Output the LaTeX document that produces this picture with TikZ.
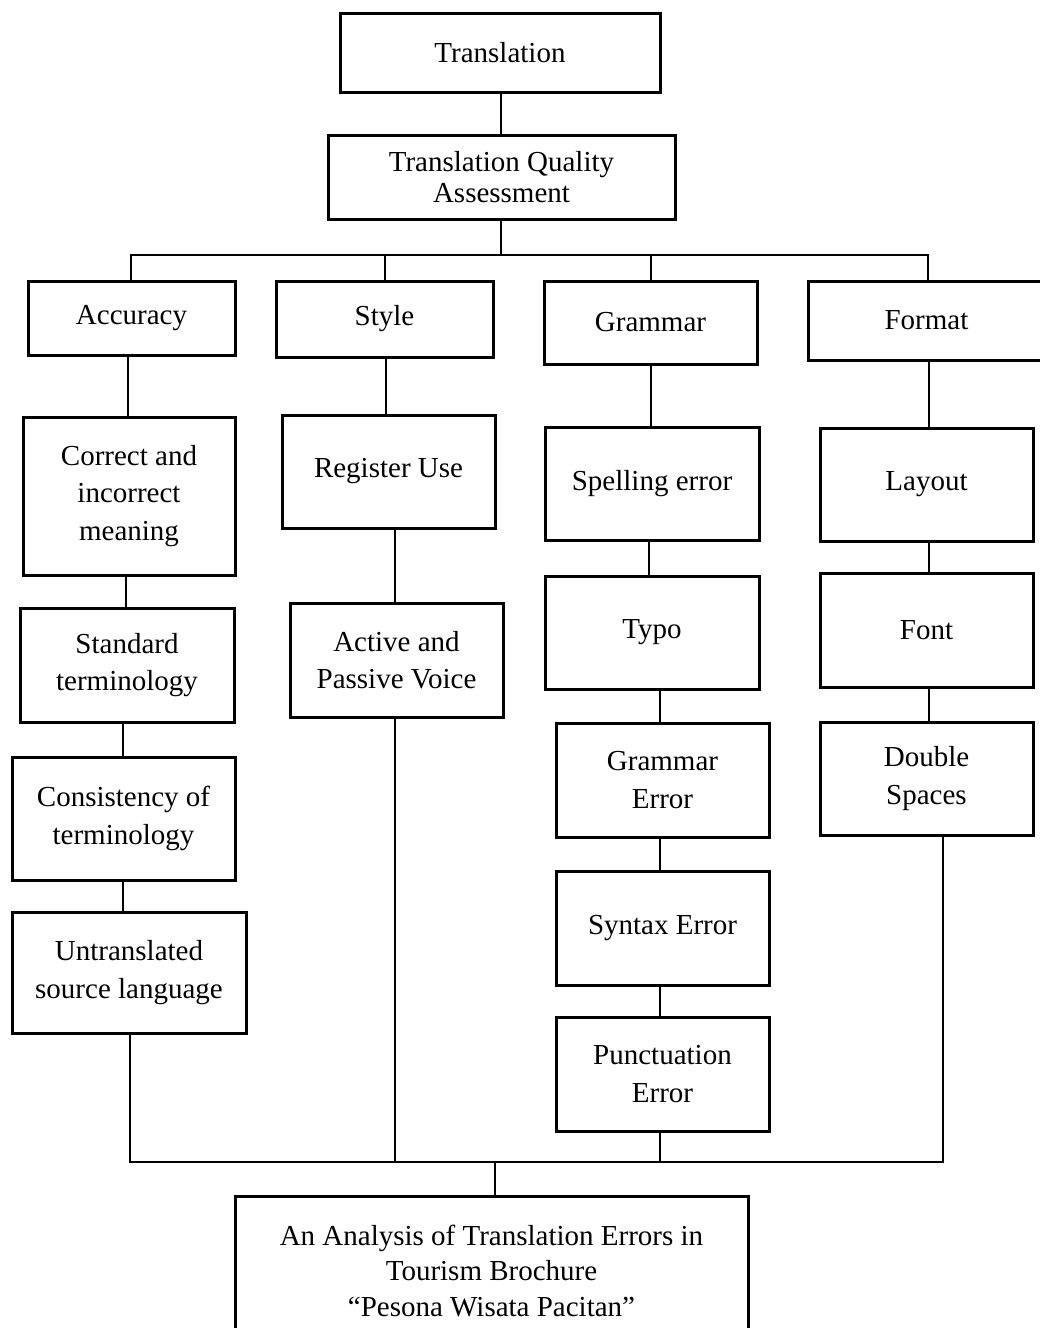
\documentclass[tikz,border=0pt]{standalone}
\usepackage{fontspec}
\setmainfont{Liberation Serif}
\begin{document}
\begin{tikzpicture}[x=1pt,y=-1pt,
  box/.style={draw=black,line width=3pt,rectangle,align=center,inner sep=0pt,
    font=\fontsize{29}{37.5}\selectfont},
  conn/.style={draw=black,line width=2.5pt}]
\useasboundingbox[fill=white] (0,0) rectangle (1040,1328);
% top
\node[box,minimum width=320,minimum height=79] (tr) at (500,52.5) {Translation};
\node[box,minimum width=347,minimum height=84] (tqa) at (501.5,177) {Translation Quality\\[-6pt]Assessment};
% categories
\node[box,minimum width=207,minimum height=74] (acc) at (131.5,318) {Accuracy};
\node[box,minimum width=217,minimum height=76] (sty) at (384.5,319) {Style};
\node[box,minimum width=213,minimum height=83] (gra) at (650.5,322.5) {Grammar};
\node[box,minimum width=237,minimum height=79] (fmt) at (926.5,320.5) {Format};
% accuracy column
\node[box,minimum width=212,minimum height=158] (cor) at (129,496) {Correct and\\incorrect\\meaning};
\node[box,minimum width=214,minimum height=114] (std) at (127,665) {Standard\\terminology};
\node[box,minimum width=223,minimum height=123] (con) at (123.5,818.5) {Consistency of\\terminology};
\node[box,minimum width=234,minimum height=121] (unt) at (129,972.5) {Untranslated\\source language};
% style column
\node[box,minimum width=213,minimum height=113] (reg) at (388.5,471.5) {Register Use};
\node[box,minimum width=213,minimum height=114] (act) at (396.5,660) {Active and\\Passive Voice};
% grammar column
\node[box,minimum width=214,minimum height=113] (spe) at (652,483.5) {Spelling error};
\node[box,minimum width=214,minimum height=113] (typ) at (652,632.5) {Typo};
\node[box,minimum width=213,minimum height=114] (gre) at (662.5,780) {Grammar\\Error};
\node[box,minimum width=213,minimum height=114] (syn) at (662.5,928) {Syntax Error};
\node[box,minimum width=213,minimum height=114] (pun) at (662.5,1074) {Punctuation\\Error};
% format column
\node[box,minimum width=213,minimum height=113] (lay) at (926.5,484.5) {Layout};
\node[box,minimum width=213,minimum height=114] (fon) at (926.5,630) {Font};
\node[box,minimum width=213,minimum height=113] (dbl) at (926.5,778.5) {Double\\Spaces};
% final
\node[box,minimum width=513,minimum height=149] (fin) at (491.5,1270.5) {An Analysis of Translation Errors in\\[-2pt]Tourism Brochure\\[-2pt]``Pesona Wisata Pacitan''};
% bus coordinates
\coordinate (tl) at (131,255);
\coordinate (trr) at (928,255);
\coordinate (bl) at (130,1162);
\coordinate (br) at (943,1162);
\coordinate (bm) at (495,1162);
% top connectors
\draw[conn] (tr.south -| 501,0) -- (tqa.north -| 501,0);
\draw[conn] (tqa.south -| 501,0) -- (tl -| 501,0);
\draw[conn] (acc.north -| tl) -- (tl) -- (trr) -- (fmt.north -| trr);
\draw[conn] (sty.north -| 385,0) -- (tl -| 385,0);
\draw[conn] (gra.north -| 651,0) -- (tl -| 651,0);
% accuracy chain
\draw[conn] (acc.south -| 128,0) -- (cor.north -| 128,0);
\draw[conn] (cor.south -| 126,0) -- (std.north -| 126,0);
\draw[conn] (std.south -| 123,0) -- (con.north -| 123,0);
\draw[conn] (con.south -| 123,0) -- (unt.north -| 123,0);
% style chain
\draw[conn] (sty.south -| 386,0) -- (reg.north -| 386,0);
\draw[conn] (reg.south -| 395,0) -- (act.north -| 395,0);
% grammar chain
\draw[conn] (gra.south -| 651,0) -- (spe.north -| 651,0);
\draw[conn] (spe.south -| 649,0) -- (typ.north -| 649,0);
\draw[conn] (typ.south -| 660,0) -- (gre.north -| 660,0);
\draw[conn] (gre.south -| 660,0) -- (syn.north -| 660,0);
\draw[conn] (syn.south -| 660,0) -- (pun.north -| 660,0);
% format chain
\draw[conn] (fmt.south -| 929,0) -- (lay.north -| 929,0);
\draw[conn] (lay.south -| 929,0) -- (fon.north -| 929,0);
\draw[conn] (fon.south -| 929,0) -- (dbl.north -| 929,0);
% bottom bus
\draw[conn] (unt.south -| bl) -- (bl) -- (br) -- (dbl.south -| br);
\draw[conn] (act.south -| 395,0) -- (bl -| 395,0);
\draw[conn] (pun.south -| 660,0) -- (bl -| 660,0);
\draw[conn] (bm) -- (fin.north -| bm);
\end{tikzpicture}
\end{document}
